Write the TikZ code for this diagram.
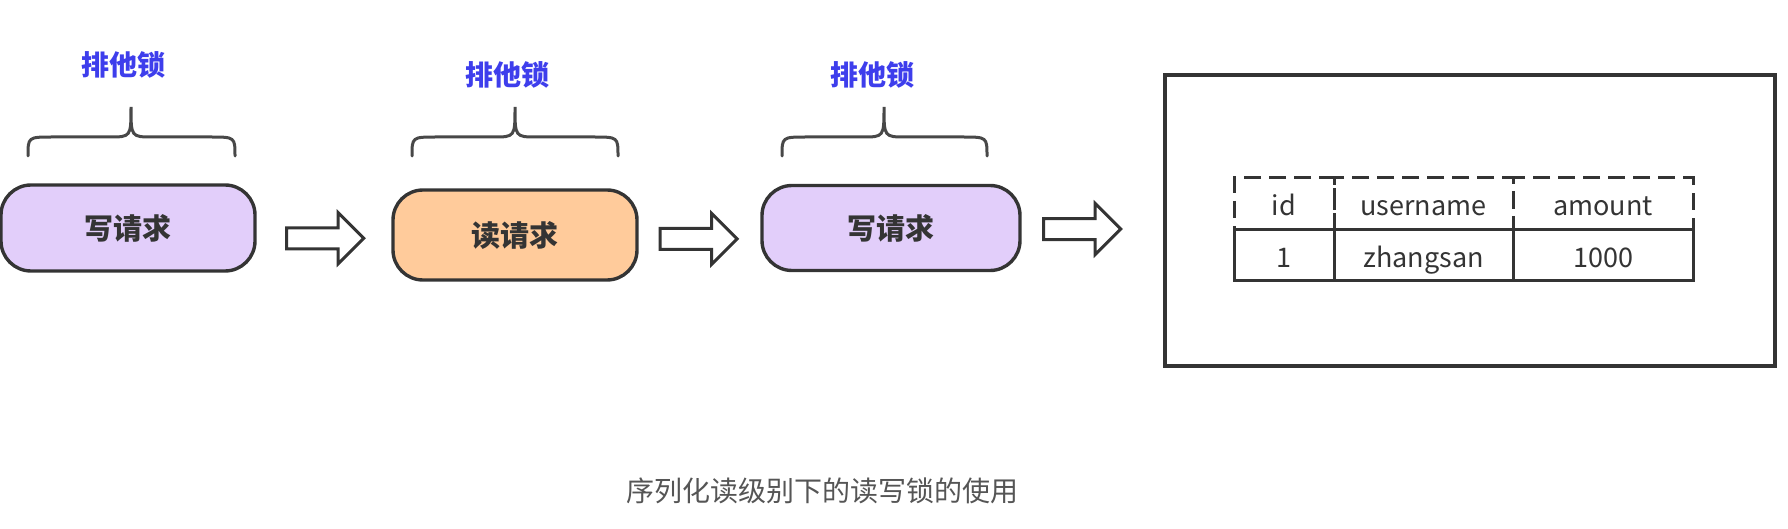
\documentclass[tikz,border=0pt]{standalone}
\usepackage{fontspec}
\setmainfont{Noto Sans CJK SC}
\usepackage{tikz}
\usetikzlibrary{shapes.arrows,calc}
\definecolor{writefill}{RGB}{226,206,250}
\definecolor{readfill}{RGB}{255,203,155}
\definecolor{lockblue}{RGB}{62,62,236}
\definecolor{ink}{RGB}{52,52,52}
\definecolor{captiongray}{RGB}{85,85,85}
\tikzset{
  req/.style={draw=ink, line width=1.7pt, rounded corners=15pt, inner sep=0pt,
    text=ink, font=\fontsize{14.5}{16}\selectfont\bfseries},
  locklabel/.style={text=lockblue, font=\fontsize{14}{16}\selectfont\bfseries},
  lockbrace/.style={draw=ink!90, line width=1.5pt, line cap=round},
  blockarrow/.style={single arrow, draw=ink, line width=1.5pt, fill=white,
    minimum height=38.5pt, minimum width=24pt, single arrow head extend=7.5pt,
    inner xsep=0pt, inner ysep=4.5pt},
  hcell/.style={draw=ink, line width=1.5pt, dashed, dash pattern=on 8.5pt off 4pt,
    inner sep=0pt, minimum height=26pt, text height=13pt, text depth=1pt,
    text=ink, font=\fontsize{13.5}{15}\selectfont},
  bcell/.style={draw=ink, line width=1.5pt, inner sep=0pt, minimum height=25.5pt,
    text height=13pt, text depth=1pt, text=ink, font=\fontsize{13.5}{15}\selectfont}
}
\begin{document}
\begin{tikzpicture}[x=0.5pt,y=-0.5pt]
  \useasboundingbox (0,0) rectangle (1788,529);
  % requests
  \node[req, fill=writefill, minimum width=127pt, minimum height=43pt] (w1) at (128,228) {写请求};
  \node[req, fill=readfill, minimum width=122pt, minimum height=45pt] (rd) at (515,235) {读请求};
  \node[req, fill=writefill, minimum width=129pt, minimum height=42.5pt] (w2) at (891,228) {写请求};
  % braces and labels
  \foreach \l/\m/\r in {28/131/235, 412/515/618, 782/884/987}
    \draw[lockbrace] (\l,156) .. controls (\l,137) .. (\l+25,137) -- (\m-22,137)
      .. controls (\m,137) .. (\m,107) .. controls (\m,137) .. (\m+22,137)
      -- (\r-25,137) .. controls (\r,137) .. (\r,156);
  \node[locklabel] (lk1) at (123,65) {排他锁};
  \node[locklabel] (lk2) at (507,75) {排他锁};
  \node[locklabel] (lk3) at (872,75) {排他锁};
  % table store
  \node[draw=ink, line width=1.6pt, minimum width=305pt, minimum height=145.5pt] (store) at (1470,220.5) {};
  \node[hcell, minimum width=50pt] (hid) at (1284,204) {id};
  \node[hcell, minimum width=89.5pt] (hname) at (1423.5,204) {username};
  \node[hcell, minimum width=90pt] (hamt) at (1603,204) {amount};
  \node[bcell, minimum width=50pt] (vid) at (1284,255.5) {1};
  \node[bcell, minimum width=89.5pt] (vname) at (1423.5,255.5) {zhangsan};
  \node[bcell, minimum width=90pt] (vamt) at (1603,255.5) {1000};
  % arrows
  \node[blockarrow] (a1) at ($(w1.east)!.47!(rd.west)+(0,7)$) {};
  \node[blockarrow] (a2) at ($(rd.east)!.45!(w2.west)+(0,7)$) {};
  \node[blockarrow] (a3) at ($(w2.east)!.39!(store.west)+(0,4)$) {};
  % caption
  \node[text=captiongray, font=\fontsize{14}{16}\selectfont] (cap) at (822,491) {序列化读级别下的读写锁的使用};
\end{tikzpicture}
\end{document}
